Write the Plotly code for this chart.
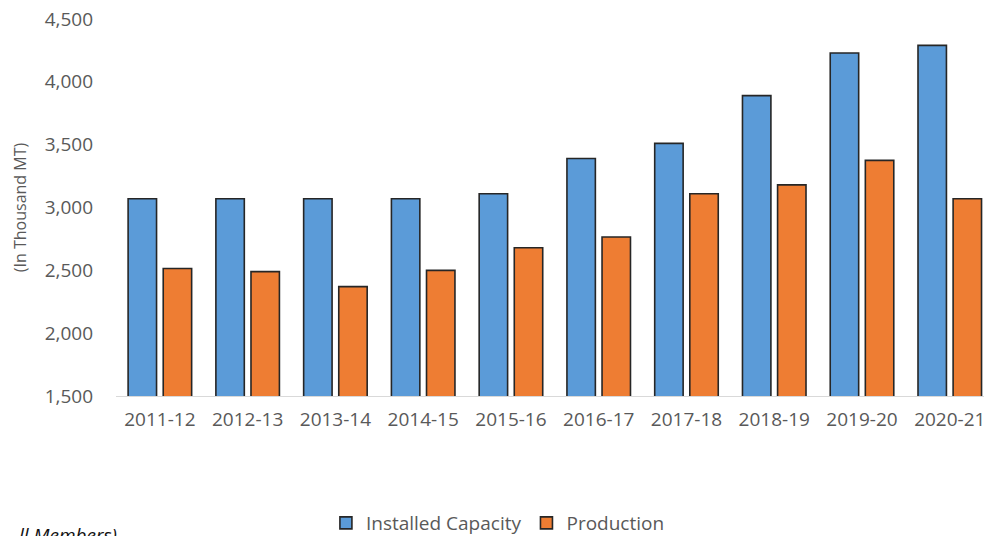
import plotly.graph_objects as go

# Fiscal years and annual figures (thousand metric tonnes)
years = ["2011-12", "2012-13", "2013-14", "2014-15", "2015-16",
         "2016-17", "2017-18", "2018-19", "2019-20", "2020-21"]
installed_capacity = [3070, 3070, 3070, 3070, 3110, 3390, 3510, 3890, 4230, 4290]
production = [2515, 2490, 2370, 2500, 2680, 2765, 3110, 3180, 3375, 3070]
y_ticks = [1500, 2000, 2500, 3000, 3500, 4000, 4500]

FONT = "Open Sans"
GREY = "#595959"

fig = go.Figure()
fig.add_trace(go.Bar(
    x=years, y=installed_capacity, name="Installed Capacity",
    marker=dict(color="#5b9bd8", line=dict(color="#262626", width=1.6)),
))
fig.add_trace(go.Bar(
    x=years, y=production, name="Production",
    marker=dict(color="#ee7d33", line=dict(color="#262626", width=1.6)),
))

fig.update_layout(
    width=984, height=536,
    margin=dict(l=116, r=0, t=19, b=140, autoexpand=False),
    paper_bgcolor="white", plot_bgcolor="white",
    barmode="group", bargap=0.2, bargroupgap=0.19,
    font=dict(family=FONT, color=GREY, size=19),
    showlegend=True,
    legend=dict(orientation="h", x=0.44, xanchor="center", y=-0.337, yanchor="middle",
                font=dict(size=19, color=GREY), traceorder="normal"),
    xaxis=dict(
        type="category", range=[-0.5, 9.39], showgrid=False, showline=True,
        linecolor="#d9d9d9", linewidth=1, ticks="", tickangle=0,
        ticklabelstandoff=6, tickfont=dict(size=19, color=GREY),
    ),
    yaxis=dict(
        range=[1500, 4500], tickvals=y_ticks, tickformat=",", showgrid=False,
        zeroline=False, showline=False, ticks="", ticklabelstandoff=22,
        tickfont=dict(size=19, color=GREY),
        title=dict(text="(In Thousand MT)", font=dict(size=16, color=GREY), standoff=14),
    ),
    annotations=[dict(
        text="ll Members)", xref="paper", yref="paper",
        x=3 / 868, y=-0.33, xanchor="right", yanchor="top", showarrow=False,
        font=dict(family=FONT, size=19, color="#111111", style="italic"),
    )],
)

fig.write_html("out.html")
